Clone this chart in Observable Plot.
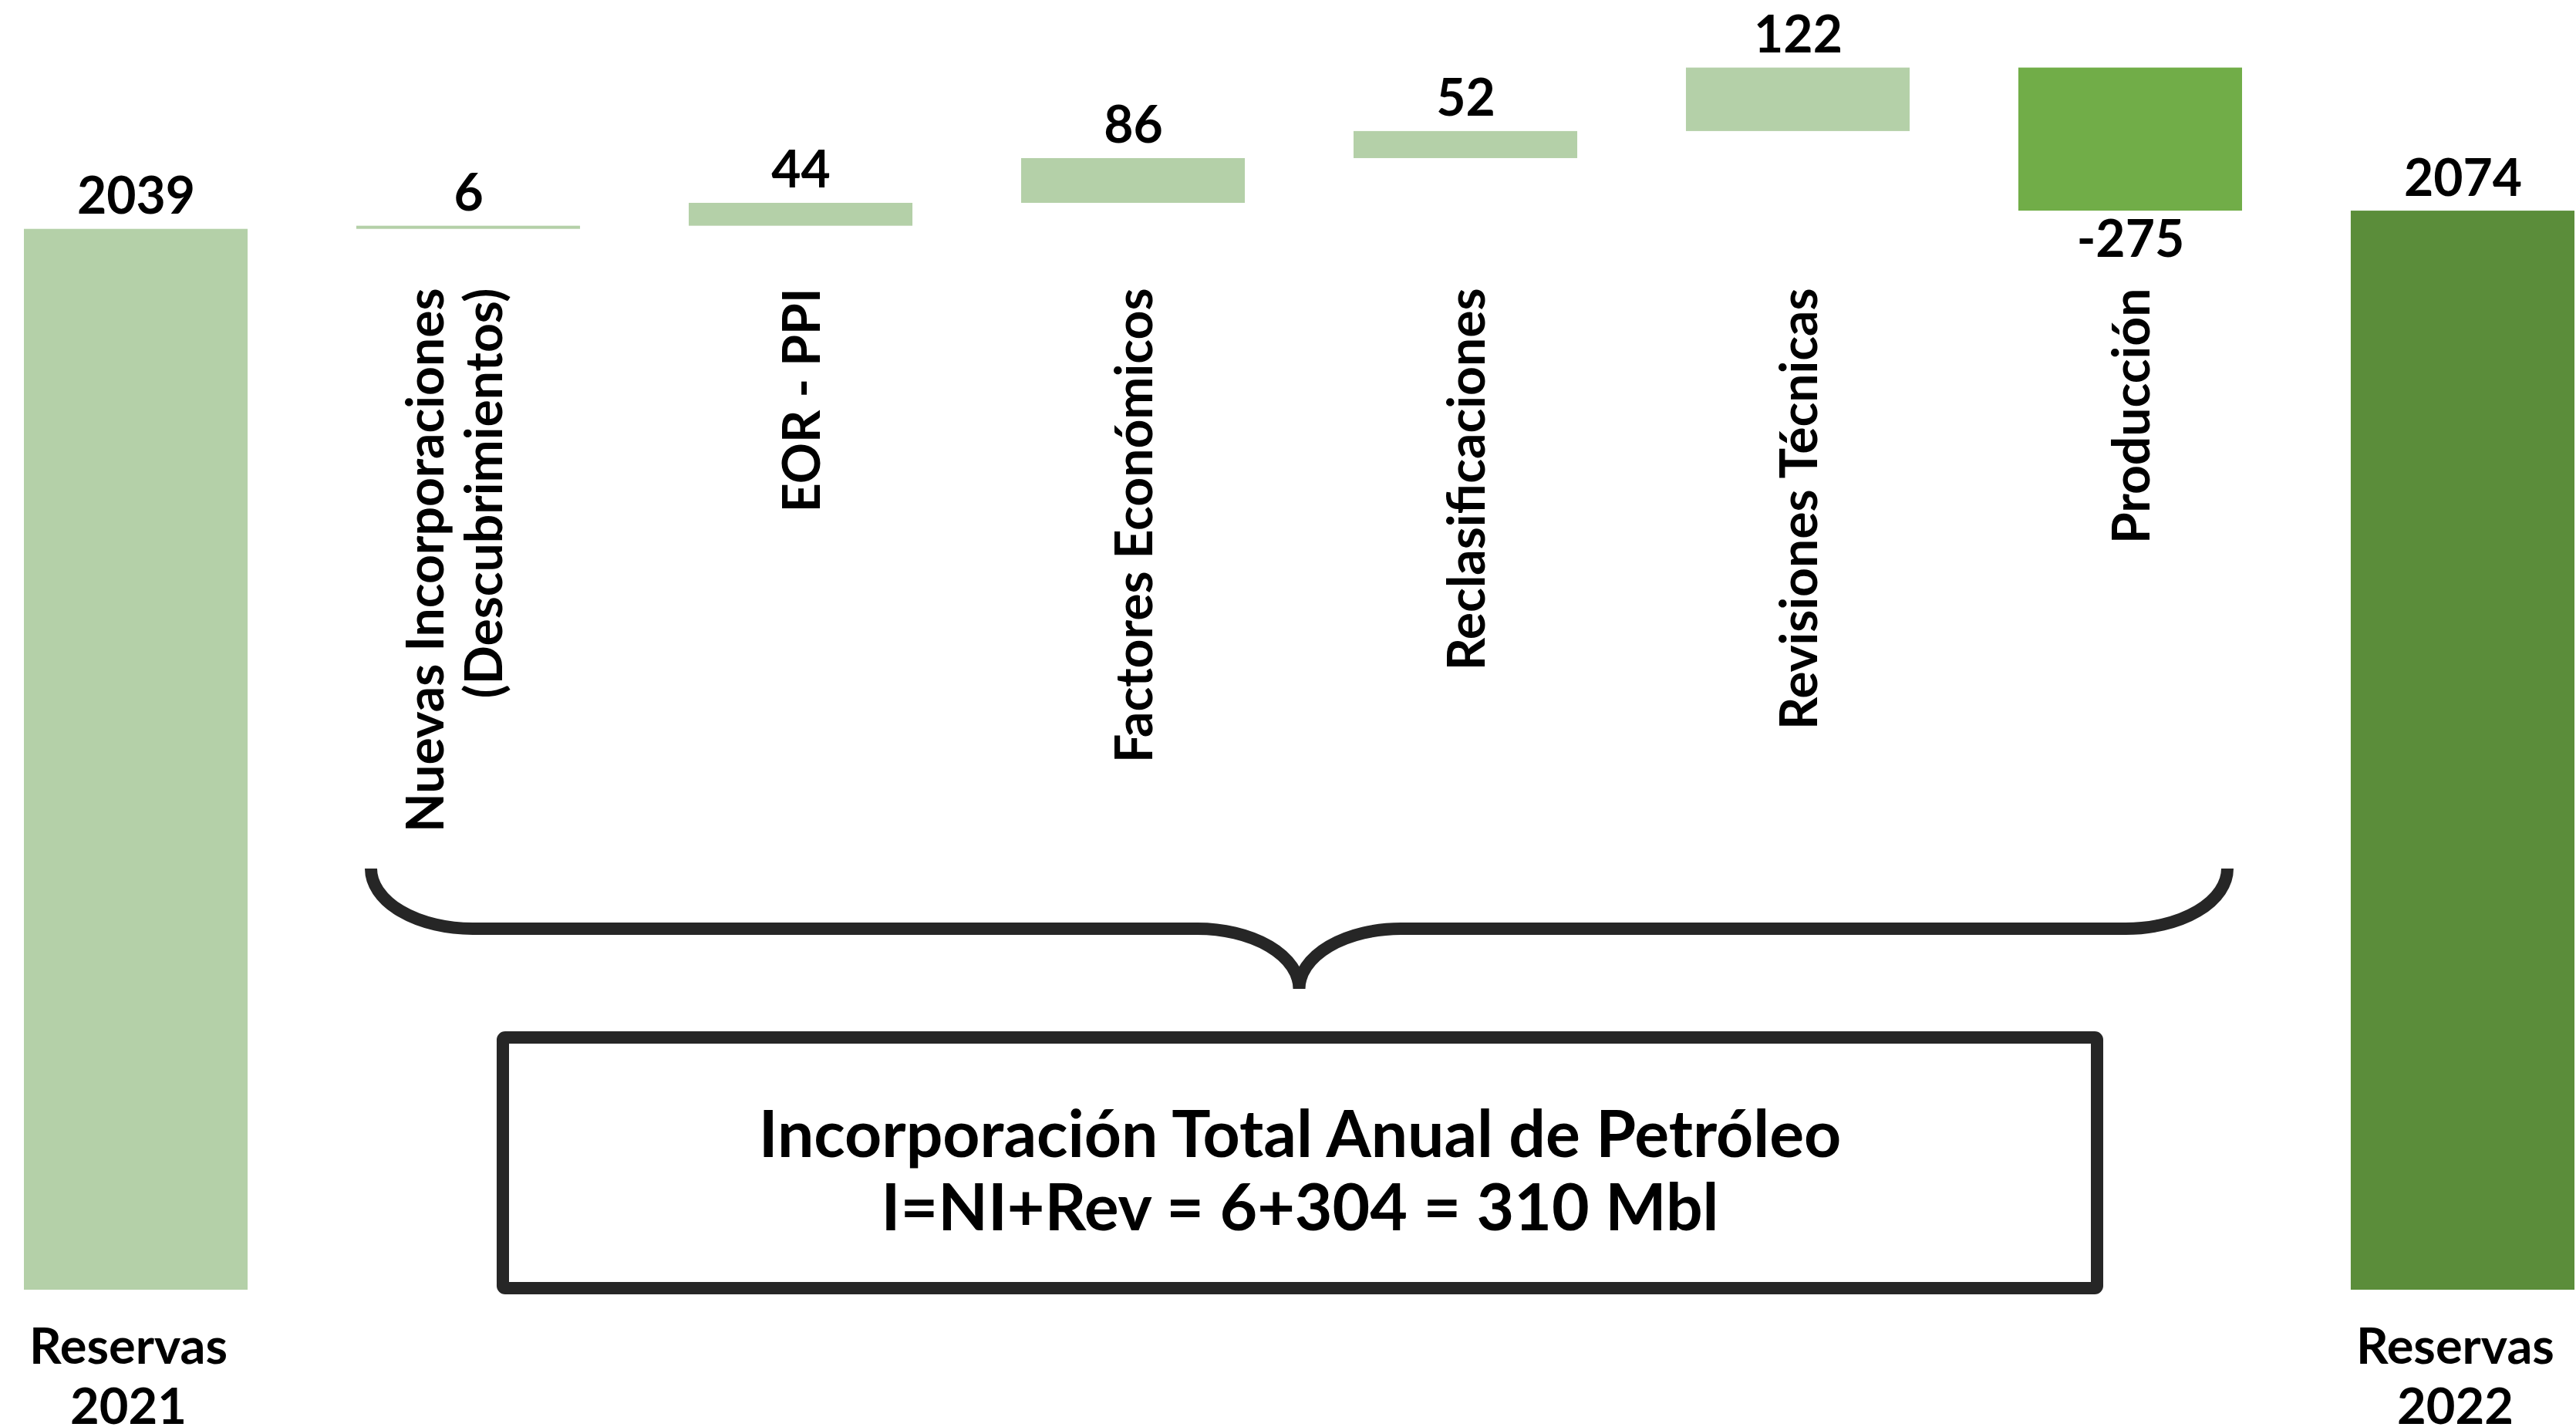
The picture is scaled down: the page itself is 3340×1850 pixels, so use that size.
<!DOCTYPE html>
<html>
<head>
<meta charset="utf-8">
<script src="https://cdn.jsdelivr.net/npm/d3@7"></script>
<script src="https://cdn.jsdelivr.net/npm/@observablehq/plot@0.6"></script>
<style>
  html, body { margin: 0; padding: 0; background: #ffffff; }
  #chart svg { display: block; }
</style>
</head>
<body>
<div id="chart"></div>
<script>
// ---- data ----
const categories = [
  "Reservas 2021",
  "Nuevas Incorporaciones (Descubrimientos)",
  "EOR - PPI",
  "Factores Económicos",
  "Reclasificaciones",
  "Revisiones Técnicas",
  "Producción",
  "Reservas 2022"
];
const values = [2039, 6, 44, 86, 52, 122, -275, 2074];
const isTotal = [true, false, false, false, false, false, false, true];
const categoryLabels = [
  "",
  "Nuevas Incorporaciones\n(Descubrimientos)",
  "EOR - PPI",
  "Factores Económicos",
  "Reclasificaciones",
  "Revisiones Técnicas",
  "Producción",
  ""
];
const bottomLabels = ["Reservas\n2021", "", "", "", "", "", "", "Reservas\n2022"];
const barColors = ["#b4d0a8", "#b4d0a8", "#b4d0a8", "#b4d0a8", "#b4d0a8", "#b4d0a8", "#71ad48", "#5b8d3a"];
const summaryLines = ["Incorporación Total Anual de Petróleo", "I=NI+Rev = 6+304 = 310 Mbl"];

// ---- waterfall table ----
let running = 0;
const rows = categories.map((c, i) => {
  let y1, y2;
  if (isTotal[i]) { y1 = 0; y2 = values[i]; running = values[i]; }
  else { y1 = running; y2 = running + values[i]; running = y2; }
  return {
    category: c, value: values[i], y1, y2,
    top: Math.max(y1, y2), bottom: Math.min(y1, y2),
    color: barColors[i], label: categoryLabels[i], bottomLabel: bottomLabels[i]
  };
});
const positives = rows.filter(d => d.value >= 0);
const negatives = rows.filter(d => d.value < 0);
const bracedFirst = categories[1], bracedLast = categories[6];

// ---- brace + box annotation (drawn through the plot's scales) ----
function braceAndBox(index, scales) {
  const x = scales.x;
  const bw = x.bandwidth ? x.bandwidth() : 290;
  const y0 = scales.y(0);
  const L = x(bracedFirst) + 19, R = x(bracedLast) + bw - 19, M = (L + R) / 2;
  const yTop = y0 - 546, yMid = y0 - 468, yTip = y0 - 390;
  const rx = 132, ry = 78;
  const g = d3.create("svg:g");
  const p = [
    `M${L},${yTop}`,
    `A${rx},${ry} 0 0 0 ${L + rx},${yMid}`,
    `L${M - rx},${yMid}`,
    `A${rx},${ry} 0 0 1 ${M},${yTip}`,
    `A${rx},${ry} 0 0 1 ${M + rx},${yMid}`,
    `L${R - rx},${yMid}`,
    `A${rx},${ry} 0 0 0 ${R},${yTop}`
  ].join(" ");
  g.append("path").attr("d", p).attr("fill", "none")
    .attr("stroke", "#262626").attr("stroke-width", 16);
  const bx1 = x(bracedFirst) + 190, bx2 = x(bracedLast) + bw - 188;
  g.append("rect").attr("x", bx1).attr("y", y0 - 327)
    .attr("width", bx2 - bx1).attr("height", 325)
    .attr("rx", 3).attr("fill", "#ffffff")
    .attr("stroke", "#262626").attr("stroke-width", 16).attr("stroke-linejoin", "round");
  return g.node();
}

const chart = Plot.plot({
  width: 3340,
  height: 1850,
  marginTop: 0, marginRight: 0, marginBottom: 0, marginLeft: 0,
  style: { fontFamily: "Lato, 'Open Sans', sans-serif", fontSize: "64px", background: "#ffffff", color: "#000000" },
  x: { domain: categories, range: [31, 3338], paddingInner: 0.327, paddingOuter: 0, round: false, axis: null },
  y: { domain: [0, 2400], range: [1672, 1672 - 2400 * 0.6745], axis: null },
  marks: [
    Plot.barY(rows, { x: "category", y1: "y1", y2: "y2", fill: "color" }),
    braceAndBox,
    // value labels above positive bars
    Plot.text(positives, {
      x: "category", y: "top", text: d => String(d.value),
      lineAnchor: "bottom", dy: -20, fontSize: 66, fontWeight: "bold", fill: "#000"
    }),
    // value labels below negative bars
    Plot.text(negatives, {
      x: "category", y: "bottom", text: d => String(d.value),
      lineAnchor: "top", dy: 13, fontSize: 66, fontWeight: "bold", fill: "#000"
    }),
    // rotated category labels
    Plot.text(rows.filter(d => d.label && d.label.includes("\n")), {
      x: "category", text: "label", frameAnchor: "top", dy: 373, dx: -19,
      rotate: -90, textAnchor: "end", lineAnchor: "middle", lineHeight: 1.16,
      fontSize: 66, fontWeight: "bold", fill: "#000"
    }),
    Plot.text(rows.filter(d => d.label && !d.label.includes("\n")), {
      x: "category", text: "label", frameAnchor: "top", dy: 373,
      rotate: -90, textAnchor: "end", lineAnchor: "middle", lineHeight: 1.16,
      fontSize: 66, fontWeight: "bold", fill: "#000"
    }),
    // bottom labels for the totals
    Plot.text(rows.filter(d => d.bottomLabel), {
      x: "category", text: "bottomLabel", frameAnchor: "bottom", dy: -5, dx: -10,
      lineAnchor: "bottom", lineHeight: 1.19,
      fontSize: 65, fontWeight: "bold", fill: "#000"
    }),
    // summary text in the box
    Plot.text([summaryLines.join("\n")], {
      text: d => d, frameAnchor: "top", dx: 15, dy: 1432,
      lineAnchor: "top", lineHeight: 1.13,
      fontSize: 84, fontWeight: "bold", fill: "#000"
    })
  ]
});
document.getElementById("chart").appendChild(chart);
</script>
</body>
</html>
